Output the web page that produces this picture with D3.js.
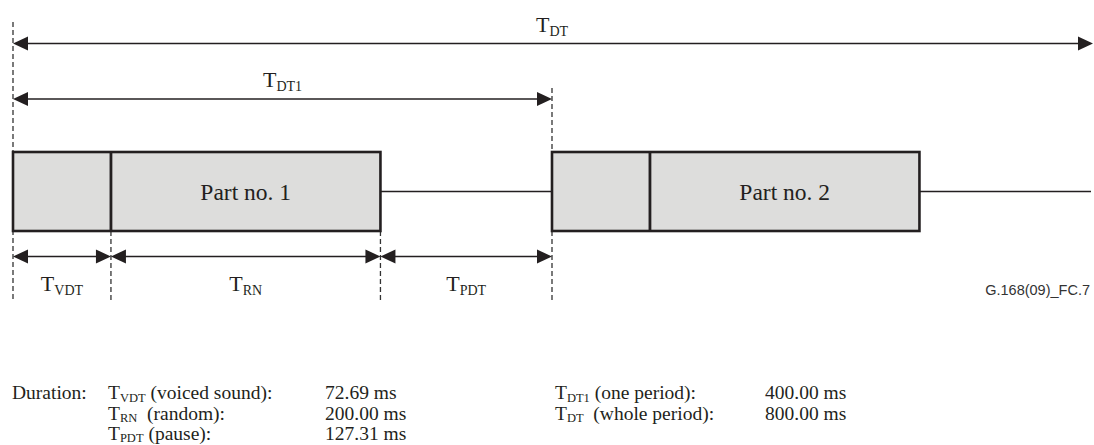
<!DOCTYPE html>
<html>
<head>
<meta charset="utf-8">
<script src="https://cdn.jsdelivr.net/npm/d3@7"></script>
<style>
  html, body { margin: 0; padding: 0; background: #fff; }
  svg { display: block; }
</style>
</head>
<body>
<svg id="chart" width="1094" height="445"></svg>
<script>
// ---------- data ----------
const segNames   = ["VDT", "RN", "PDT"];           // subscripts of segment labels
const segDurMs   = [72.69, 200.00, 127.31];        // durations within one period (ms)
const periodMs   = 400.00;                         // T_DT1
const totalMs    = 800.00;                         // T_DT
const partNames  = ["Part no. 1", "Part no. 2"];
const figureId   = "G.168(09)_FC.7";

// bottom table (left column and right column)
const leftSubs   = ["VDT", "RN", "PDT"];
const leftDesc   = [" (voiced sound):", "  (random):", " (pause):"];
const leftVals   = ["72.69 ms", "200.00 ms", "127.31 ms"];
const rightSubs  = ["DT1", "DT"];
const rightDesc  = [" (one period):", "  (whole period):"];
const rightVals  = ["400.00 ms", "800.00 ms"];

// ---------- drawing ----------
const svg = d3.select("#chart");
const ink = "#231f20";
const serif = "'Liberation Serif', 'Times New Roman', serif";
const x = d3.scaleLinear().domain([0, totalMs]).range([13, 1091]);

const yTop = 152, yBot = 231, yMid = 191.5;
const yArrTotal = 43.5, yArrPeriod = 99, yArrSeg = 256.5;
const dashBottom = 301;

// cumulative boundaries within a period
const bounds = [0];
segDurMs.forEach((d, i) => bounds.push(bounds[i] + d));

// arrowhead
function head(xTip, y, dir) { // dir: +1 points right, -1 points left
  const L = 15, W = 7;
  svg.append("path")
    .attr("d", `M${xTip},${y} L${xTip - dir * L},${y - W} L${xTip - dir * L},${y + W} Z`)
    .attr("fill", ink);
}
function dblArrow(x0, x1, y) {
  svg.append("line").attr("x1", x0 + 6).attr("x2", x1 - 6).attr("y1", y).attr("y2", y)
    .attr("stroke", ink).attr("stroke-width", 1.4);
  head(x0, y, -1);
  head(x1, y, 1);
}
function tLabel(g, xPos, y, sub, fs, subFs, anchor) {
  const t = g.append("text").attr("x", xPos).attr("y", y)
    .attr("font-family", serif)
    .attr("font-size", fs).attr("fill", ink).attr("text-anchor", anchor || "middle");
  t.append("tspan").text("T");
  t.append("tspan").attr("font-size", subFs).attr("dy", 4).text(sub);
  return t;
}

// dashed guide lines
const dash = (xp, y0, y1) => svg.append("line")
  .attr("x1", xp).attr("x2", xp).attr("y1", y0).attr("y2", y1)
  .attr("stroke", "#333").attr("stroke-width", 1.3).attr("stroke-dasharray", "5,3");
dash(x(0), 22, dashBottom);
dash(x(bounds[1]), yBot, dashBottom);
dash(x(bounds[2]), yBot, dashBottom);
dash(x(periodMs), 88, yTop);
dash(x(periodMs), yBot, dashBottom);

// baseline (pause) lines
[0, 1].forEach(p => {
  const off = p * periodMs;
  const xe = p === 0 ? x(periodMs) : x(totalMs);
  svg.append("line").attr("x1", x(off + bounds[2])).attr("x2", xe)
    .attr("y1", yMid).attr("y2", yMid).attr("stroke", ink).attr("stroke-width", 1.3);
});

// boxes
partNames.forEach((name, p) => {
  const off = p * periodMs;
  const x0 = x(off), x1 = x(off + bounds[1]), x2 = x(off + bounds[2]);
  svg.append("rect").attr("x", x0).attr("y", yTop).attr("width", x2 - x0).attr("height", yBot - yTop)
    .attr("fill", "#dddddc").attr("stroke", ink).attr("stroke-width", 2.6);
  svg.append("line").attr("x1", x1).attr("x2", x1).attr("y1", yTop).attr("y2", yBot)
    .attr("stroke", ink).attr("stroke-width", 2.8);
  svg.append("text").attr("x", (x1 + x2) / 2).attr("y", yMid + 8)
    .attr("text-anchor", "middle")
    .attr("font-family", serif)
    .attr("font-size", 23.5).attr("fill", ink).text(name);
});

// top arrows
dblArrow(x(0), x(totalMs) + 2, yArrTotal);
tLabel(svg, (x(0) + x(totalMs)) / 2, yArrTotal - 12, "DT", 22, 14);
dblArrow(x(0), x(periodMs), yArrPeriod);
tLabel(svg, (x(0) + x(periodMs)) / 2, yArrPeriod - 12, "DT1", 22, 14);

// segment arrows
segNames.forEach((s, i) => {
  const a = x(bounds[i]), b = x(bounds[i + 1]);
  dblArrow(a, b, yArrSeg);
  tLabel(svg, (a + b) / 2, 291, s, 22, 14);
});

// figure id
svg.append("text").attr("x", 1090).attr("y", 295).attr("text-anchor", "end")
  .attr("font-family", "'Liberation Sans', Arial, sans-serif")
  .attr("font-size", 14.5).attr("fill", "#333").text(figureId);

// bottom table
const fsB = 19.5, subB = 12.5;
const rowY = [399, 419.5, 439.5];
svg.append("text").attr("x", 12).attr("y", rowY[0]).attr("font-family", serif)
  .attr("font-size", fsB).attr("fill", ink).text("Duration:");
function row(xT, y, sub, desc, xV, val) {
  const t = svg.append("text").attr("x", xT).attr("y", y).attr("font-family", serif)
    .attr("font-size", fsB).attr("fill", ink).style("white-space", "pre");
  t.append("tspan").text("T");
  t.append("tspan").attr("font-size", subB).attr("dy", 2.5).text(sub);
  t.append("tspan").attr("dy", -2.5).text(desc);
  svg.append("text").attr("x", xV).attr("y", y).attr("font-family", serif)
    .attr("font-size", fsB).attr("fill", ink).text(val);
}
leftSubs.forEach((s, i) => row(108, rowY[i], s, leftDesc[i], 325, leftVals[i]));
rightSubs.forEach((s, i) => row(555, rowY[i], s, rightDesc[i], 765, rightVals[i]));
</script>
</body>
</html>
